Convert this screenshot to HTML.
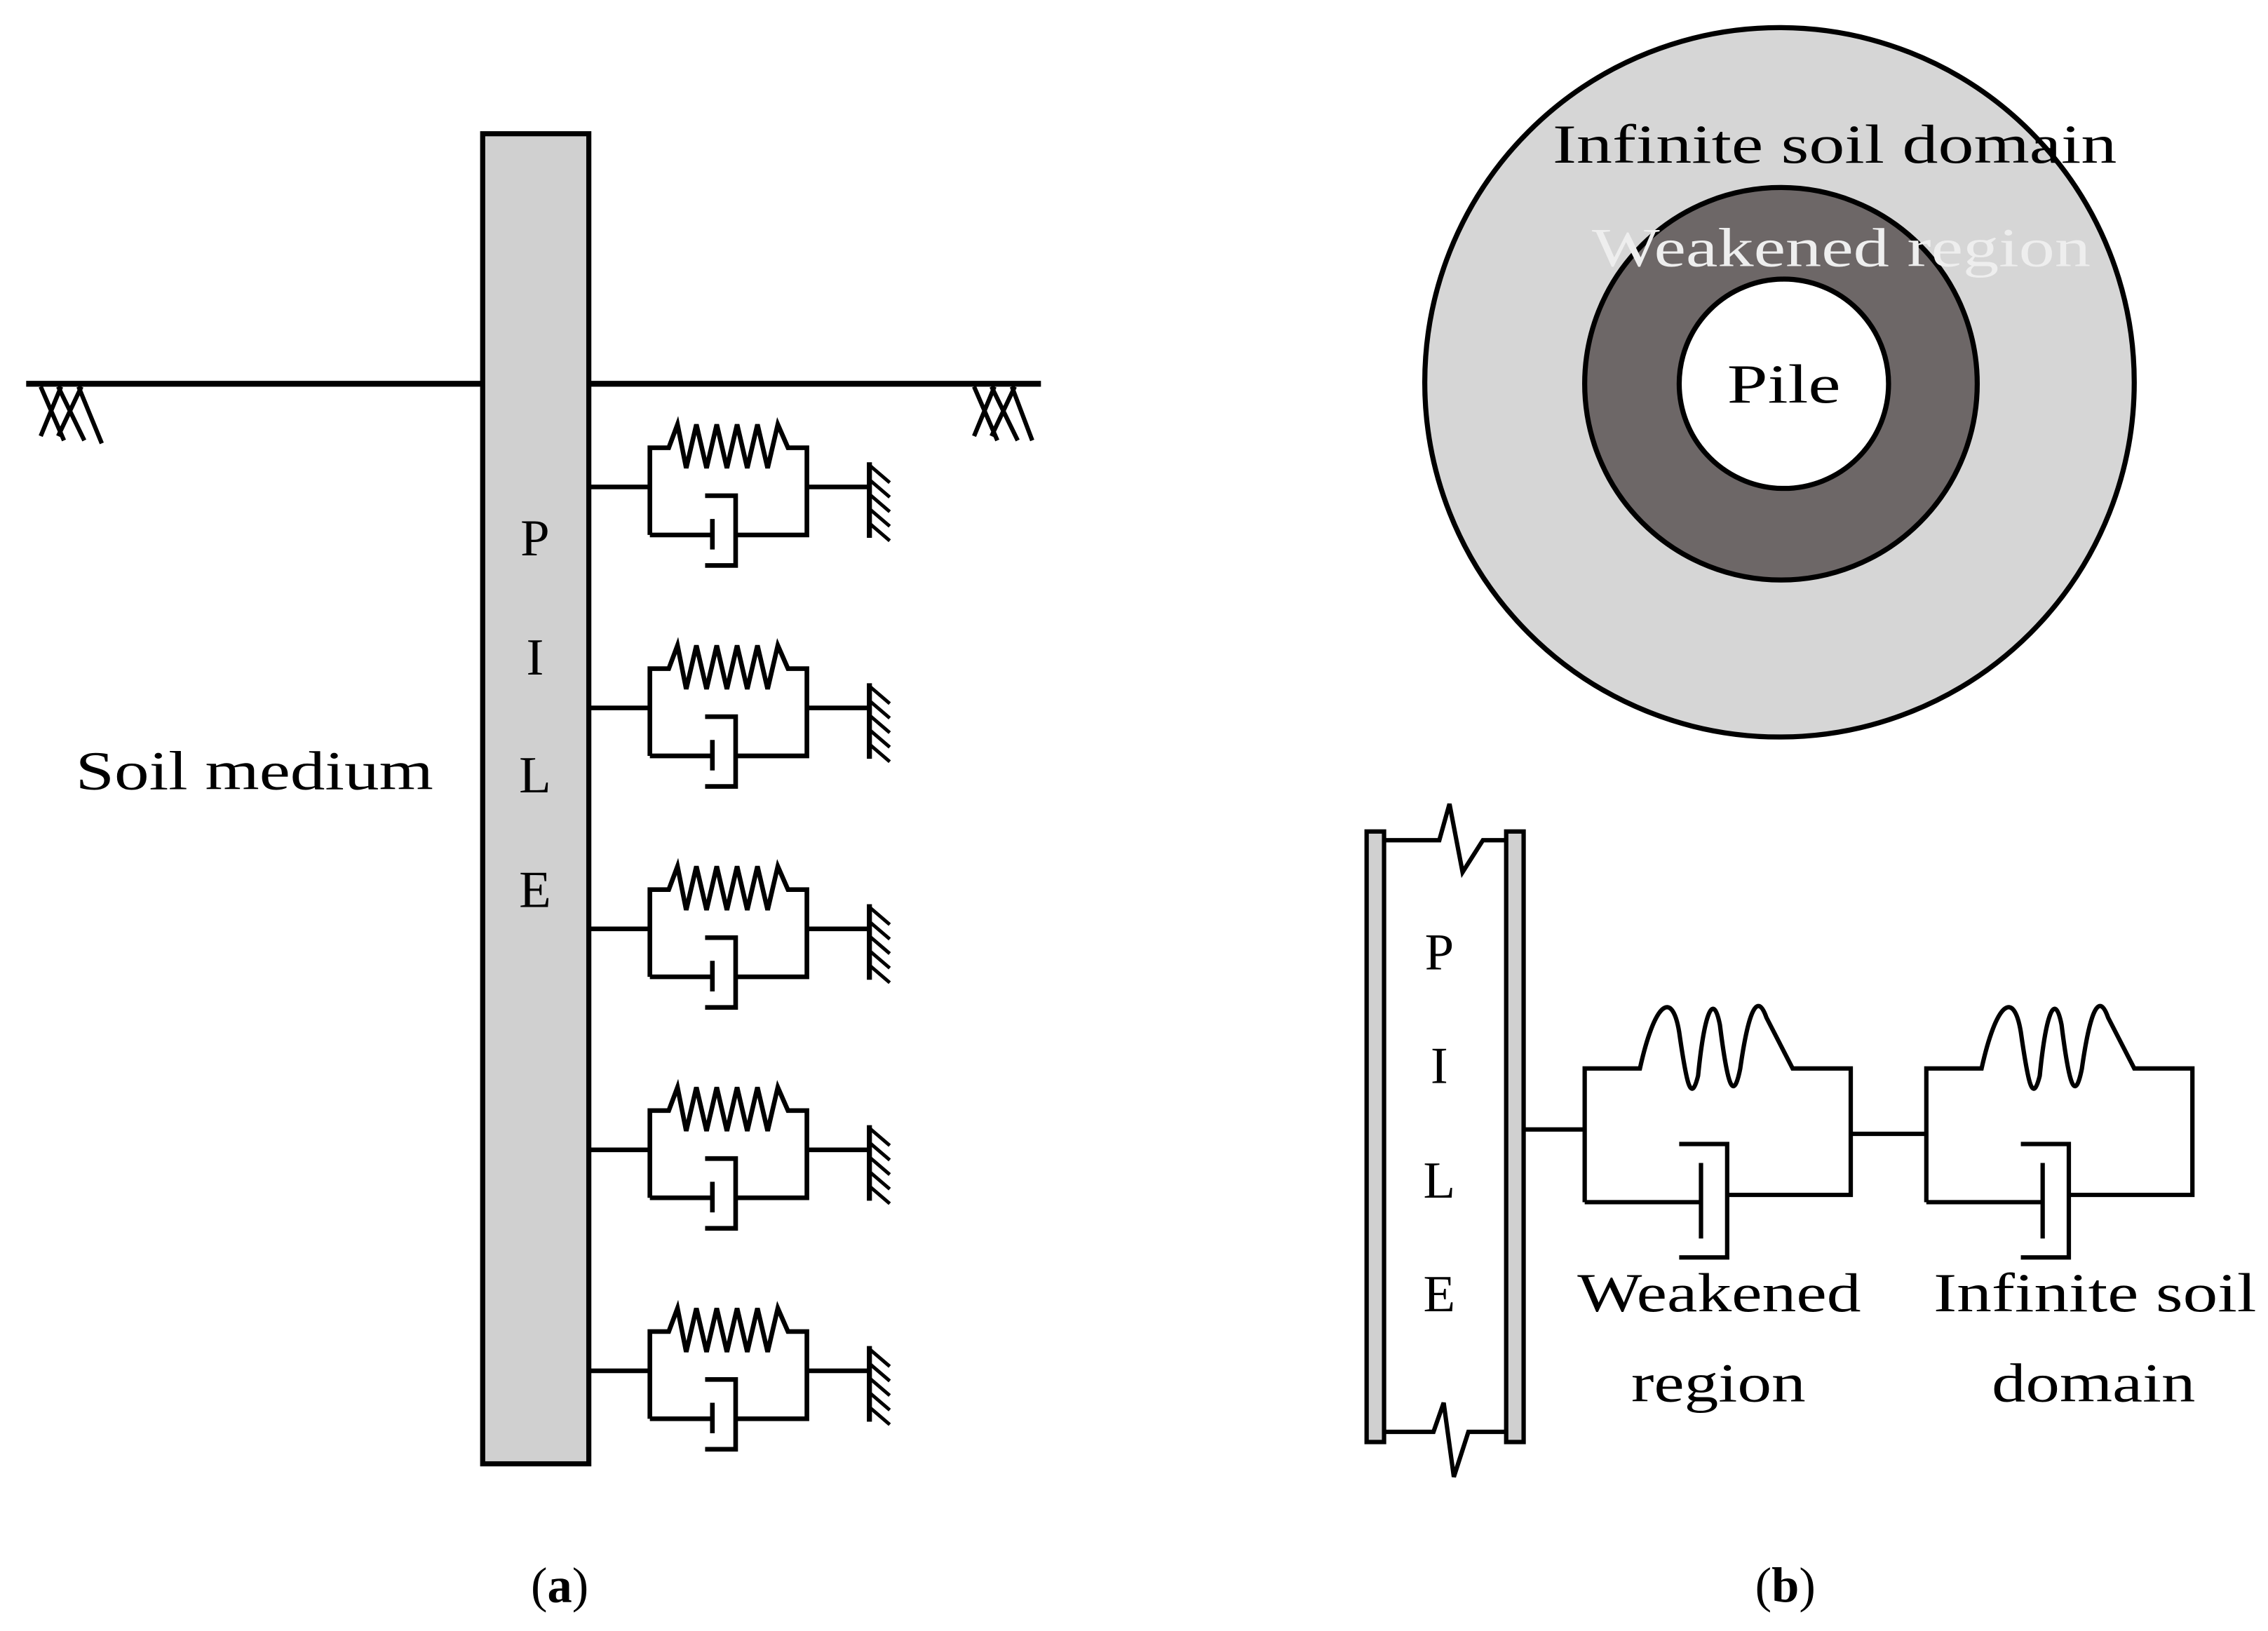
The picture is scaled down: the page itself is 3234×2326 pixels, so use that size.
<!DOCTYPE html>
<html><head><meta charset="utf-8"><style>html,body{margin:0;padding:0;background:#fff}svg{display:block}</style></head>
<body>
<svg width="3234" height="2326" viewBox="0 0 1560 1122" xmlns="http://www.w3.org/2000/svg" font-family="'Liberation Serif', serif">
<defs>
<g id="unit" fill="none" stroke="#000" stroke-width="3.2">
  <line x1="405" y1="0" x2="447" y2="0"/>
  <polyline points="447,33 447,-27 460,-27 466,-43 472,-13 479,-43 486,-13 493,-43 500,-13 507,-43 514,-13 521,-43 528,-13 535,-43 542,-27 555,-27 555,33 506,33"/>
  <polyline points="447,33 490,33"/>
  <line x1="490" y1="22" x2="490" y2="43"/>
  <polyline points="485,6 506,6 506,54 485,54"/>
  <line x1="555" y1="0" x2="598" y2="0"/>
  <line x1="598" y1="-17" x2="598" y2="35" stroke-width="3.5"/>
  <g stroke-width="2.4">
    <line x1="598" y1="-15" x2="612" y2="-3"/><line x1="598" y1="-5" x2="612" y2="7"/>
    <line x1="598" y1="5" x2="612" y2="17"/><line x1="598" y1="15" x2="612" y2="27"/>
    <line x1="598" y1="25" x2="612" y2="37"/>
  </g>
</g>
<g id="kv" fill="none" stroke="#000" stroke-width="3">
  <path d="M1090,827 L1090,735 L1128,735 C1138,690 1150,680 1155,710 C1160,745 1163,760 1168,740 C1172,700 1178,680 1183,705 C1188,745 1192,760 1197,735 C1202,700 1208,680 1215,700 L1233,735 L1273,735 L1273,822 L1188,822"/>
  <line x1="1090" y1="827" x2="1170" y2="827"/>
  <line x1="1170" y1="800" x2="1170" y2="852"/>
  <polyline points="1155,787 1188,787 1188,865 1155,865"/>
</g>
</defs>

<!-- (a) -->
<rect x="332" y="92" width="73" height="915" fill="#d0d0d0" stroke="#000" stroke-width="3.5"/>
<line x1="18" y1="264" x2="332" y2="264" stroke="#000" stroke-width="4"/>
<line x1="405" y1="264" x2="716" y2="264" stroke="#000" stroke-width="4"/>
<g stroke="#000" stroke-width="3" fill="none">
  <path d="M28,266 L44,303 M42,266 L28,300 M40,266 L58,303 M56,266 L40,300 M54,266 L70,305"/>
  <path d="M670,266 L686,303 M684,266 L670,300 M682,266 L700,303 M698,266 L682,300 M696,266 L710,303"/>
</g>
<use href="#unit" transform="translate(0,335)"/>
<use href="#unit" transform="translate(0,487)"/>
<use href="#unit" transform="translate(0,639)"/>
<use href="#unit" transform="translate(0,791)"/>
<use href="#unit" transform="translate(0,943)"/>
<g font-size="36" text-anchor="middle" fill="#000">
  <text x="368" y="382">P</text>
  <text x="368" y="464">I</text>
  <text x="368" y="545">L</text>
  <text x="368" y="624">E</text>
</g>
<text x="52" y="543" font-size="38" textLength="246" lengthAdjust="spacingAndGlyphs">Soil medium</text>
<text x="385" y="1102" font-size="34" text-anchor="middle">(<tspan font-weight="bold">a</tspan>)</text>

<!-- (b) circles -->
<circle cx="1224" cy="263" r="244" fill="#d6d6d6" stroke="#000" stroke-width="3.5"/>
<circle cx="1225" cy="264" r="135" fill="#6d6767" stroke="#000" stroke-width="3.5"/>
<circle cx="1227" cy="264" r="72" fill="#fff" stroke="#000" stroke-width="3.5"/>
<text x="1068" y="112" font-size="38" textLength="388" lengthAdjust="spacingAndGlyphs">Infinite soil domain</text>
<text x="1095" y="183" font-size="38" textLength="343" lengthAdjust="spacingAndGlyphs" fill="#eeeeee">Weakened region</text>
<text x="1188" y="277" font-size="38" textLength="78" lengthAdjust="spacingAndGlyphs">Pile</text>

<!-- (b) lower pile -->
<rect x="940" y="572" width="12" height="420" fill="#d0d0d0" stroke="#000" stroke-width="3"/>
<rect x="1036" y="572" width="12" height="420" fill="#d0d0d0" stroke="#000" stroke-width="3"/>
<g fill="none" stroke="#000" stroke-width="3">
  <path d="M952,578 L990,578 L997,553 L1006,600 L1020,578 L1036,578"/>
  <path d="M952,985 L986,985 L993,965 L1000,1016 L1010,985 L1036,985"/>
  <line x1="1048" y1="777" x2="1090" y2="777"/>
  <line x1="1273" y1="780" x2="1325" y2="780"/>
</g>
<use href="#kv"/>
<use href="#kv" transform="translate(235,0)"/>
<g font-size="36" text-anchor="middle" fill="#000">
  <text x="990" y="667">P</text>
  <text x="990" y="745">I</text>
  <text x="990" y="824">L</text>
  <text x="990" y="902">E</text>
</g>
<g font-size="38">
  <text x="1085" y="902" textLength="195" lengthAdjust="spacingAndGlyphs">Weakened</text>
  <text x="1122" y="964" textLength="120" lengthAdjust="spacingAndGlyphs">region</text>
  <text x="1330" y="902" textLength="222" lengthAdjust="spacingAndGlyphs">Infinite soil</text>
  <text x="1370" y="964" textLength="140" lengthAdjust="spacingAndGlyphs">domain</text>
</g>
<text x="1228" y="1102" font-size="34" text-anchor="middle">(<tspan font-weight="bold">b</tspan>)</text>
</svg>
</body></html>
